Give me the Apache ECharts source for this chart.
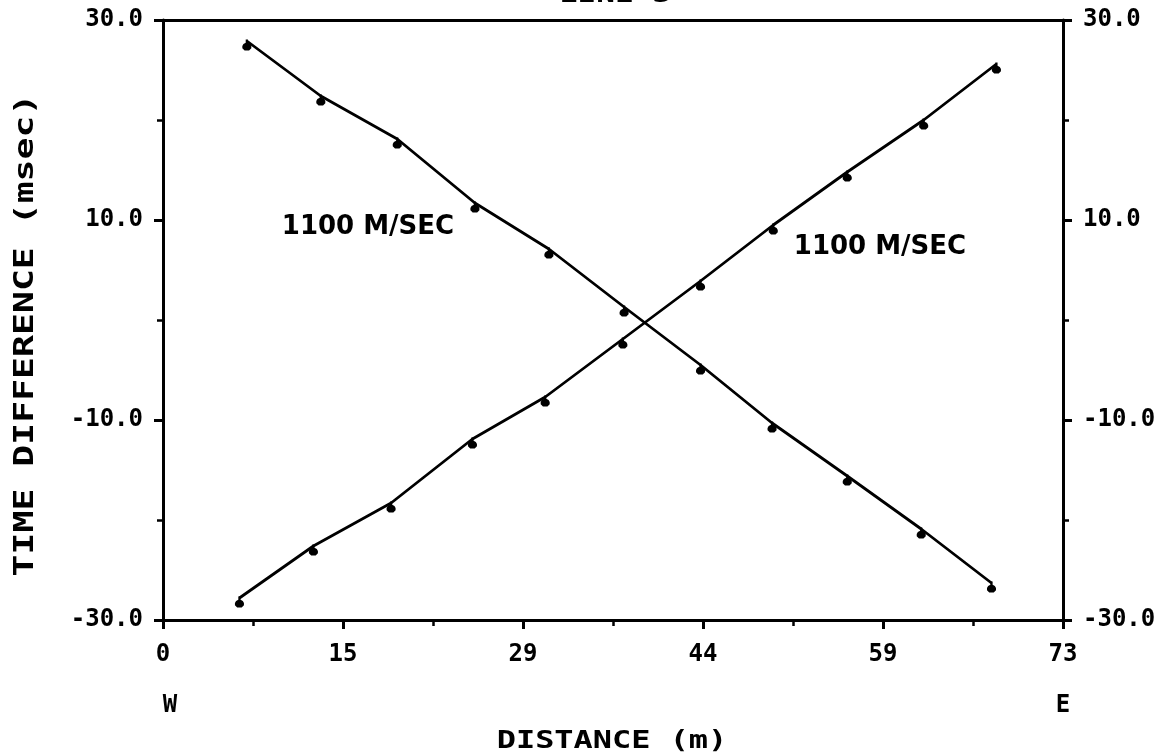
<!DOCTYPE html>
<html>
<head>
<meta charset="utf-8">
<script src="https://cdn.jsdelivr.net/npm/echarts@6/dist/echarts.min.js"></script>
<style>
html,body{margin:0;padding:0;background:#fff;}
#chart{width:1170px;height:756px;}
</style>
</head>
<body>
<div id="chart"></div>
<script>
// Distance (m) of each shot point
var distWestShot = [6.8, 12.8, 19.0, 25.3, 31.3, 37.4, 43.6, 49.4, 55.5, 61.5, 67.2];
var timeWestShot = [27.9, 22.4, 18.1, 11.7, 7.1, 1.3, -4.5, -10.3, -15.6, -20.9, -26.3];
var distEastShot = [6.2, 12.2, 18.5, 25.1, 31.0, 37.3, 43.6, 49.5, 55.5, 61.7, 67.6];
var timeEastShot = [-27.8, -22.6, -18.3, -11.9, -7.7, -1.9, 3.9, 9.5, 14.8, 20.0, 25.6];
var xTickLabels = ['0', '15', '29', '44', '59', '73'];
var yTickLabels = ['-30.0', '-10.0', '10.0', '30.0'];
var velocityLabel = '1100 M/SEC';

var X_MAX = 73, X_STEP = 14.6, Y_MIN = -30, Y_MAX = 30, Y_STEP = 20;

function pairs(xs, ys) { return xs.map(function (x, i) { return [x, ys[i]]; }); }

var MONO = '"DejaVu Sans Mono", monospace';
var SANS = '"DejaVu Sans", sans-serif';
var markerPath = 'path://M3,0 L5,0 L5,3 L7,4 L8,6 L8,8 L6,10 L2,10 L0,8 L0,6 L1,4 L3,3 Z';

var chart = echarts.init(document.getElementById('chart'), null, {renderer: 'canvas'});

function yAxisDef(pos) {
  return {
    type: 'value', position: pos, min: Y_MIN, max: Y_MAX, interval: Y_STEP,
    axisLine: {show: true, onZero: false, lineStyle: {color: '#000', width: 3}},
    axisTick: {show: true, inside: false, length: 9, lineStyle: {color: '#000', width: 3}},
    minorTick: {show: true, splitNumber: 2, length: 6, lineStyle: {color: '#000', width: 2.5}},
    splitLine: {show: false},
    axisLabel: {
      margin: 20, color: '#000', fontFamily: MONO, fontWeight: 'bold', fontSize: 24,
      formatter: function (v) { return yTickLabels[Math.round((v - Y_MIN) / Y_STEP)]; }
    }
  };
}

var option = {
  backgroundColor: '#fff',
  animation: false,
  grid: {left: 163, right: 107, top: 20, bottom: 136, containLabel: false},
  xAxis: [{
    type: 'value', position: 'bottom', min: 0, max: X_MAX, interval: X_STEP,
    axisLine: {show: true, onZero: false, lineStyle: {color: '#000', width: 3}},
    axisTick: {show: true, inside: false, length: 9, lineStyle: {color: '#000', width: 3}},
    minorTick: {show: true, splitNumber: 2, length: 6, lineStyle: {color: '#000', width: 2.5}},
    splitLine: {show: false},
    axisLabel: {
      margin: 23, color: '#000', fontFamily: MONO, fontWeight: 'bold', fontSize: 24,
      formatter: function (v) { return xTickLabels[Math.round(v / X_STEP)]; }
    }
  }, {
    type: 'value', position: 'top', min: 0, max: X_MAX,
    axisLine: {show: true, onZero: false, lineStyle: {color: '#000', width: 3}},
    axisTick: {show: false}, axisLabel: {show: false}, splitLine: {show: false}
  }],
  yAxis: [yAxisDef('left'), yAxisDef('right')],
  series: [{
    type: 'line', name: 'West shot', xAxisIndex: 0, yAxisIndex: 0,
    data: pairs(distWestShot, timeWestShot),
    lineStyle: {color: '#000', width: 2.8},
    symbol: markerPath, symbolSize: [9, 11], symbolOffset: [0, 4], showAllSymbol: true,
    itemStyle: {color: '#000'}
  }, {
    type: 'line', name: 'East shot', xAxisIndex: 0, yAxisIndex: 0,
    data: pairs(distEastShot, timeEastShot),
    lineStyle: {color: '#000', width: 2.8},
    symbol: markerPath, symbolSize: [9, 11], symbolOffset: [0, 4], showAllSymbol: true,
    itemStyle: {color: '#000'}
  }],
  graphic: [
    {type: 'text', x: 615, y: 8, style: {text: 'LINE 3', font: 'bold 24px ' + MONO, fill: '#000', textAlign: 'center', textVerticalAlign: 'bottom'}, scaleX: 1.3},
    {type: 'text', x: 26, y: 335, rotation: Math.PI / 2, scaleX: 1.35,
      style: {text: 'TIME DIFFERENCE (msec)', font: 'bold 27px ' + MONO, fill: '#000', textAlign: 'center', textVerticalAlign: 'middle'}},
    {type: 'text', x: 612, y: 742, scaleX: 1.33,
      style: {text: 'DISTANCE (m)', font: 'bold 24px ' + MONO, fill: '#000', textAlign: 'center', textVerticalAlign: 'middle'}},
    {type: 'text', x: 170, y: 706, style: {text: 'W', font: 'bold 24px ' + MONO, fill: '#000', textAlign: 'center', textVerticalAlign: 'middle'}},
    {type: 'text', x: 1063, y: 706, style: {text: 'E', font: 'bold 24px ' + MONO, fill: '#000', textAlign: 'center', textVerticalAlign: 'middle'}},
    {type: 'text', x: 368, y: 227, style: {text: velocityLabel, font: 'bold 26px ' + SANS, fill: '#000', textAlign: 'center', textVerticalAlign: 'middle'}},
    {type: 'text', x: 880, y: 247, style: {text: velocityLabel, font: 'bold 26px ' + SANS, fill: '#000', textAlign: 'center', textVerticalAlign: 'middle'}}
  ]
};
chart.setOption(option);
</script>
</body>
</html>
